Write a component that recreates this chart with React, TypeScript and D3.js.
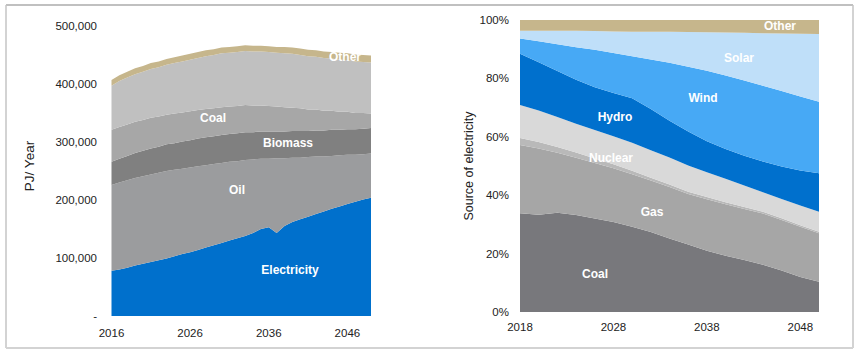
import React from 'react';
import * as d3 from 'd3';

// Left panel: final energy demand, thousand PJ per year (stacked)
const leftYears = d3.range(2016, 2050);
const leftKeys = ['Electricity', 'Oil', 'Biomass', 'Coal', 'Gas', 'Other'];
const electricity = [78, 80, 83, 87, 90, 93, 96, 99, 103, 107, 110, 114, 118, 122, 126, 130, 134, 138, 143, 150, 153, 143, 155, 162, 167, 171, 176, 180, 185, 189, 193, 197, 201, 204];
const oil = [148, 150, 151, 151, 151, 151, 151, 151, 149, 147, 146, 144, 142, 140, 138, 136, 133, 131, 127, 121, 118, 129, 117, 111, 106, 103, 99, 95, 91, 88, 85, 81, 78, 76];
const biomass = [40, 41, 42, 43, 44, 45, 45, 46, 46, 47, 47, 48, 48, 48, 48, 48, 48, 48, 47, 47, 47, 46, 46, 46, 46, 45, 45, 45, 45, 44, 44, 44, 44, 44];
const coalL = [55, 55, 54, 54, 53, 53, 52, 51, 51, 50, 50, 49, 49, 48, 48, 47, 47, 47, 46, 45, 44, 43, 42, 40, 39, 37, 36, 34, 33, 31, 30, 28, 27, 25];
const gasL = [76, 79, 81, 82, 83, 84, 85, 86, 87, 88, 89, 90, 91, 92, 93, 93, 93, 93, 93, 93, 93, 93, 93, 93, 92, 92, 91, 91, 90, 90, 89, 89, 88, 88];
const otherL = [10, 10, 10, 10, 10, 10, 10, 10, 10, 10, 10, 10, 10, 10, 10, 10, 10, 10, 10, 10, 10, 10, 11, 11, 11, 11, 11, 11, 11, 12, 12, 12, 12, 12];
const leftTicksY = [0, 100, 200, 300, 400, 500];
const leftTicksX = [2016, 2026, 2036, 2046];

// Right panel: share of electricity generation, %
const rightYears = d3.range(2018, 2051, 2);
const rightKeys = ['Coal', 'Gas', 'Oil', 'Nuclear', 'Hydro', 'Wind', 'Solar', 'Other'];
const coalR = [33.8, 33.3, 34.0, 33.2, 32.0, 30.8, 29.2, 27.4, 25.2, 23.1, 21.0, 19.3, 17.8, 16.2, 14.2, 12.0, 10.4];
const gasR = [23.4, 22.7, 20.5, 19.6, 19.0, 18.4, 18.0, 17.6, 17.6, 17.3, 17.6, 17.6, 17.5, 17.5, 17.3, 17.2, 16.6];
const oilR = [2.4, 2.2, 2.0, 1.8, 1.6, 1.4, 1.2, 1.0, 0.9, 0.8, 0.8, 0.7, 0.7, 0.6, 0.6, 0.5, 0.5];
const nuclearR = [11.3, 10.8, 10.3, 9.9, 9.7, 9.6, 9.6, 9.4, 9.2, 9.0, 8.5, 8.0, 7.3, 6.7, 6.6, 6.8, 6.8];
const hydroR = [17.5, 16.5, 15.7, 15.0, 14.7, 14.8, 15.2, 14.1, 12.6, 11.6, 10.6, 10.2, 10.2, 10.5, 11.1, 12.0, 13.2];
const windR = [5.3, 7.2, 9.2, 11.2, 12.8, 13.7, 14.4, 17.0, 19.9, 22.2, 24.1, 25.2, 25.8, 26.0, 25.9, 25.3, 24.5];
const solarR = [2.6, 3.6, 4.6, 5.6, 6.4, 7.4, 8.4, 9.5, 10.6, 11.9, 13.2, 14.7, 16.3, 18.0, 19.7, 21.5, 23.2];
const otherR = [3.7, 3.7, 3.7, 3.7, 3.8, 3.9, 4.0, 4.0, 4.0, 4.1, 4.2, 4.3, 4.4, 4.5, 4.6, 4.7, 4.8];
const rightTicksY = [0, 20, 40, 60, 80, 100];
const rightTicksX = [2018, 2028, 2038, 2048];

const leftColors: Record<string, string> = {
  Electricity: '#0070cc', Oil: '#9b9c9e', Biomass: '#808080', Coal: '#a7a7a7', Gas: '#c0c0c0', Other: '#c6b68c',
};
const rightColors: Record<string, string> = {
  Coal: '#78787c', Gas: '#a6a6a6', Oil: '#b9b9b9', Nuclear: '#d9d9d9', Hydro: '#0070cd', Wind: '#47a9f5', Solar: '#bfdff9', Other: '#c6b68c',
};

const font = 'Arial, "Liberation Sans", sans-serif';

export default function App() {
  const leftRows = leftYears.map((year, i) => ({
    year, Electricity: electricity[i], Oil: oil[i], Biomass: biomass[i], Coal: coalL[i], Gas: gasL[i], Other: otherL[i],
  }));
  const rightRows = rightYears.map((year, i) => ({
    year, Coal: coalR[i], Gas: gasR[i], Oil: oilR[i], Nuclear: nuclearR[i], Hydro: hydroR[i], Wind: windR[i], Solar: solarR[i], Other: otherR[i],
  }));

  const xL = d3.scaleLinear().domain([2016, 2049]).range([111.5, 371]);
  const yL = d3.scaleLinear().domain([0, 500]).range([316, 26]);
  const xR = d3.scaleLinear().domain([2018, 2050]).range([520, 819]);
  const yR = d3.scaleLinear().domain([0, 100]).range([312, 20]);

  const stackL = d3.stack<any>().keys(leftKeys)(leftRows);
  const stackR = d3.stack<any>().keys(rightKeys)(rightRows);

  const areaL = d3.area<any>().x(d => xL(d.data.year)).y0(d => yL(d[0])).y1(d => yL(d[1]));
  const areaR = d3.area<any>().x(d => xR(d.data.year)).y0(d => yR(d[0])).y1(d => yR(d[1]));

  const fmt = d3.format(',');

  const labelsL = [
    { t: 'Electricity', x: 290, y: 270 },
    { t: 'Oil', x: 237, y: 190 },
    { t: 'Biomass', x: 288, y: 143 },
    { t: 'Coal', x: 213, y: 118 },
    { t: 'Other', x: 345, y: 57 },
  ];
  const labelsR = [
    { t: 'Other', x: 780, y: 26 },
    { t: 'Solar', x: 739, y: 58 },
    { t: 'Wind', x: 703, y: 98 },
    { t: 'Hydro', x: 615, y: 117 },
    { t: 'Nuclear', x: 611, y: 158 },
    { t: 'Gas', x: 652, y: 212 },
    { t: 'Coal', x: 595, y: 274 },
  ];

  return (
    <svg width={864} height={358} style={{ position: 'absolute', left: 0, top: 0, background: '#fff' }} fontFamily={font}>
      {/* frame */}
      <line x1={6} y1={5} x2={853} y2={5} stroke="#ababab" strokeWidth={1.5} />
      <line x1={6} y1={5} x2={6} y2={348} stroke="#c4c4c4" strokeWidth={1.5} />
      <line x1={853} y1={5} x2={853} y2={348} stroke="#c4c4c4" strokeWidth={1.5} />
      <line x1={6} y1={348} x2={853} y2={348} stroke="#d3d3d3" strokeWidth={2} />

      {/* left chart */}
      {stackL.map(s => (
        <path key={s.key} d={areaL(s) || ''} fill={leftColors[s.key]} />
      ))}
      {leftTicksY.map(v => (
        <text key={v} x={97} y={yL(v)} dy="0.35em" textAnchor="end" fontSize={11.5} fill="#222">
          {v === 0 ? '-' : fmt(v * 1000)}
        </text>
      ))}
      {leftTicksX.map(v => (
        <text key={v} x={xL(v)} y={337} textAnchor="middle" fontSize={11.5} fill="#222">{v}</text>
      ))}
      <text transform="translate(34,166) rotate(-90)" textAnchor="middle" fontSize={13.5} fill="#222">PJ/ Year</text>
      {labelsL.map(l => (
        <text key={l.t} x={l.x} y={l.y} dy="0.35em" textAnchor="middle" fontSize={12} fontWeight="bold" fill="#fff">{l.t}</text>
      ))}

      {/* right chart */}
      {stackR.map(s => (
        <path key={s.key} d={areaR(s) || ''} fill={rightColors[s.key]} />
      ))}
      {rightTicksY.map(v => (
        <text key={v} x={509} y={yR(v)} dy="0.35em" textAnchor="end" fontSize={11.5} fill="#222">{v}%</text>
      ))}
      {rightTicksX.map(v => (
        <text key={v} x={xR(v)} y={331} textAnchor="middle" fontSize={11.5} fill="#222">{v}</text>
      ))}
      <text transform="translate(473,166) rotate(-90)" textAnchor="middle" fontSize={12.5} fill="#222">Source of electricity</text>
      {labelsR.map(l => (
        <text key={l.t} x={l.x} y={l.y} dy="0.35em" textAnchor="middle" fontSize={12} fontWeight="bold" fill="#fff">{l.t}</text>
      ))}
    </svg>
  );
}
